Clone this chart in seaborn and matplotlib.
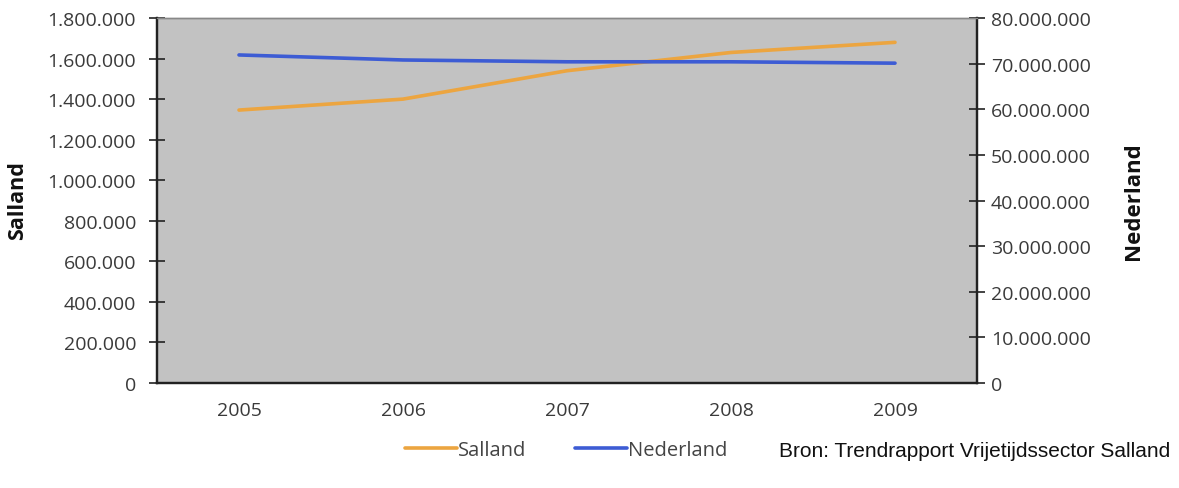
import matplotlib
matplotlib.use("Agg")
import matplotlib.pyplot as plt
import seaborn as sns
import pandas as pd
from matplotlib.ticker import FuncFormatter, FixedLocator

years = ["2005", "2006", "2007", "2008", "2009"]
salland = [1346000, 1400000, 1540000, 1630000, 1680000]
nederland = [71900000, 70800000, 70400000, 70400000, 70100000]

sns.set_theme(style="white")
plt.rcParams["font.family"] = ["Open Sans", "DejaVu Sans"]

def dotted(v, pos=None):
    return f"{int(round(v)):,}".replace(",", ".")

df = pd.DataFrame({"jaar": range(len(years)), "Salland": salland, "Nederland": nederland})

fig = plt.figure(figsize=(11.79, 4.89), dpi=100)
ax = fig.add_axes([157 / 1179, 1 - 384 / 489, (977 - 157) / 1179, (384 - 19) / 489])
ax2 = ax.twinx()

ax.set_facecolor("#c2c2c2")
sns.lineplot(data=df, x="jaar", y="Salland", ax=ax, color="#eca540", lw=2.6, label="Salland", legend=False)
sns.lineplot(data=df, x="jaar", y="Nederland", ax=ax2, color="#3d5cd4", lw=2.6, label="Nederland", legend=False)

ax.set_xlim(-0.5, len(years) - 0.5)
ax.set_ylim(0, 1800000)
ax2.set_ylim(0, 80000000)
ax.set_yticks(range(0, 1800001, 200000))
ax2.set_yticks(range(0, 80000001, 10000000))
ax.yaxis.set_major_formatter(FuncFormatter(dotted))
ax2.yaxis.set_major_formatter(FuncFormatter(dotted))

tick_fs = 14
ax.set_xticks(range(len(years)))
ax.set_xticklabels(years)
ax.xaxis.set_minor_locator(FixedLocator([i - 0.5 for i in range(len(years) + 1)]))
ax.tick_params(axis="x", which="major", length=0, pad=13, labelsize=tick_fs, labelcolor="#3a3a3a")
ax.tick_params(axis="x", which="minor", direction="inout", length=10, width=1.2, color="#222222")
ax.tick_params(axis="y", direction="inout", length=12, width=1.2, color="#222222", labelsize=tick_fs,
               labelcolor="#3a3a3a", left=True, pad=9)
ax2.tick_params(axis="y", direction="inout", length=12, width=1.2, color="#222222", labelsize=tick_fs,
                labelcolor="#3a3a3a", right=True, pad=4)

for a in (ax, ax2):
    for side in ("left", "right", "bottom"):
        a.spines[side].set_color("#222222")
        a.spines[side].set_linewidth(1.6)
    a.spines["top"].set_color("#888888")
    a.spines["top"].set_linewidth(1.0)

ax.set_xlabel("")
ax.set_ylabel("Salland", fontsize=15.5, fontweight="bold", color="#111111")
ax.yaxis.set_label_coords((28 - 157) / 820, (384 - 201) / 365)
ax2.set_ylabel("Nederland", fontsize=16, fontweight="bold", color="#111111")
ax2.yaxis.set_label_coords((1123 - 157) / 820, (384 - 201) / 365)

h1, l1 = ax.get_legend_handles_labels()
h2, l2 = ax2.get_legend_handles_labels()
fig.legend(h1 + h2, l1 + l2, loc="center", bbox_to_anchor=(566 / 1179, 1 - 451 / 489), ncol=2,
           frameon=False, fontsize=14.5, handlelength=2.6, handletextpad=0.05, columnspacing=2.4,
           labelcolor="#444444")

fig.text(1170 / 1179, 1 - 452 / 489, "Bron: Trendrapport Vrijetijdssector Salland", ha="right", va="center",
         fontsize=15, family=["Liberation Sans", "DejaVu Sans"], color="#111111")

fig.savefig("out.png", dpi=100, facecolor="white")
